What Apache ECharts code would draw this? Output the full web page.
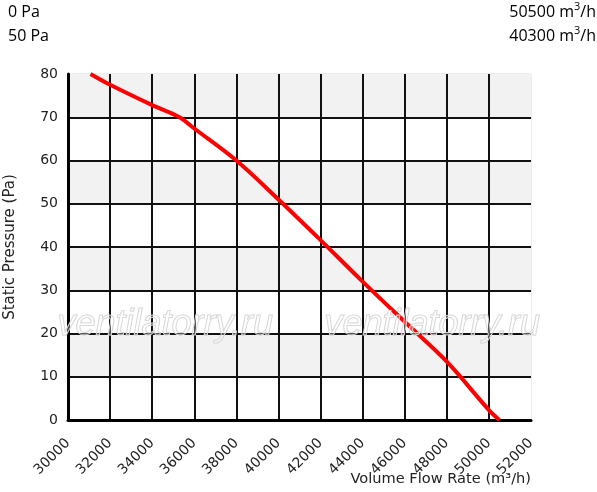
<!DOCTYPE html>
<html><head><meta charset="utf-8">
<script src="https://cdn.jsdelivr.net/npm/echarts@6/dist/echarts.min.js"></script>
<style>html,body{margin:0;padding:0;background:#fff}#c{width:597px;height:492px}</style>
</head><body><div id="c"></div>
<script>
var flowRates = [31070, 32000, 34000, 35300, 36000, 38000, 40000, 42000, 44000, 46000, 48000, 50000, 50500];
var pressures = [80, 77.5, 72.8, 70, 67.4, 60, 51.0, 41.6, 32.0, 22.7, 13.5, 2.3, 0];
var xTicks = [30000, 52000, 2000];
var yTicks = [0, 80, 10];
var infoLeft = ['0 Pa', '50 Pa'];
var infoRight = ['50500', '40300'];
var xName = 'Volume Flow Rate (m³/h)';
var yName = 'Static Pressure (Pa)';

var chart = echarts.init(document.getElementById('c'));
var data = flowRates.map(function (f, i) { return [f, pressures[i]]; });
var topFont = '"Open Sans", sans-serif';
function rightText(v, y) {
  return {
    type: 'text', right: 1, top: y,
    style: {
      text: '{a|' + v + ' m}{s|3}{a|/h}',
      rich: {
        a: { fontSize: 16, fontFamily: topFont, fill: '#000', verticalAlign: 'bottom' },
        s: { fontSize: 11, fontFamily: topFont, fill: '#000', padding: [0, 0, 8, 0], verticalAlign: 'bottom' }
      }
    }
  };
}
var wmStyle = { fill: 'rgba(255,255,255,0.3)', stroke: '#d0d0d0', lineWidth: 1, font: 'italic 36px "Liberation Sans", sans-serif' };
chart.setOption({
  animation: false,
  grid: { left: 68, right: 66, top: 74, bottom: 72, outerBoundsMode: 'none', containLabel: false, show: true, borderColor: '#d8d8d8', borderWidth: 1, backgroundColor: 'transparent' },
  xAxis: {
    type: 'value', min: xTicks[0], max: xTicks[1], interval: xTicks[2],
    axisLine: { show: true, onZero: false, lineStyle: { color: '#000', width: 3 } },
    axisTick: { show: false },
    splitLine: { show: true, showMinLine: false, showMaxLine: false, lineStyle: { color: '#111', width: 2 } },
    axisLabel: { rotate: 45, fontFamily: '"DejaVu Sans", sans-serif', fontSize: 14, color: '#222', margin: 21,
      formatter: function (v) { return String(v); } }
  },
  yAxis: {
    type: 'value', min: yTicks[0], max: yTicks[1], interval: yTicks[2],
    name: yName, nameLocation: 'middle', nameGap: 50, nameRotate: 90,
    nameTextStyle: { fontFamily: '"DejaVu Sans", sans-serif', fontSize: 15, color: '#222' },
    axisLine: { show: true, lineStyle: { color: '#000', width: 3 } },
    axisTick: { show: false },
    splitLine: { show: true, showMinLine: false, showMaxLine: false, lineStyle: { color: '#111', width: 2 } },
    splitArea: { show: true, areaStyle: { color: ['#ffffff', '#f2f2f2'] } },
    axisLabel: { fontFamily: '"DejaVu Sans", sans-serif', fontSize: 14, color: '#222', margin: 10 }
  },
  series: [{
    type: 'line', data: data, smooth: 0.35, showSymbol: false, symbol: 'none',
    lineStyle: { color: '#ff0000', width: 4 }, z: 5
  }],
  graphic: [
    { type: 'text', left: 8, top: 4, style: { text: infoLeft[0], fontSize: 16, fontFamily: topFont, fill: '#000' } },
    { type: 'text', left: 8, top: 28, style: { text: infoLeft[1], fontSize: 16, fontFamily: topFont, fill: '#000' } },
    rightText(infoRight[0], 1),
    rightText(infoRight[1], 25),
    { type: 'text', right: 66, top: 472, style: { text: xName, fontSize: 14.6, fontFamily: '"DejaVu Sans", sans-serif', fill: '#222' } },
    { type: 'text', left: 57, top: 306, z: 10, silent: true, style: Object.assign({ text: 'ventilatorry.ru' }, wmStyle) },
    { type: 'text', left: 324, top: 306, z: 10, silent: true, style: Object.assign({ text: 'ventilatorry.ru' }, wmStyle) }
  ]
});
</script></body></html>
